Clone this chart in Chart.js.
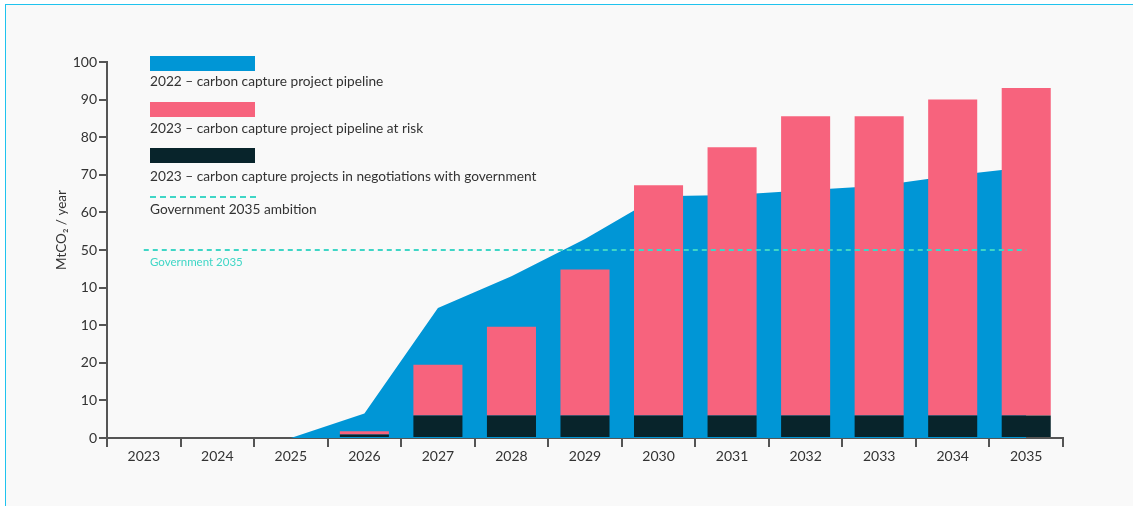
<!DOCTYPE html>
<html lang="en">
<head>
    <meta charset="UTF-8">
    <title>Carbon capture project pipeline</title>
    <script src="https://cdn.jsdelivr.net/npm/chart.js"></script>
    <style>
        body { margin: 0; background: #fff; font-family: Lato, sans-serif; }
        .frame {
            position: absolute; left: 5px; top: 4px; width: 1140px; height: 520px;
            background: #f9f9f9; border-top: 1.5px solid #1fc3ee; border-left: 1.5px solid #1fc3ee;
        }
        .wrap { position: absolute; left: 0; top: 0; width: 1133px; height: 506px; }
        .legend { position: absolute; left: 0; top: 0; color: #333; font-size: 13.7px; }
        .swatch { position: absolute; left: 150px; width: 105px; height: 15px; }
        .dash { position: absolute; left: 150px; width: 106px; height: 2px;
            background: repeating-linear-gradient(90deg, #3fd6c6 0 6px, transparent 6px 10px); }
        .label { position: absolute; left: 150px; white-space: nowrap; line-height: 16px; }
    </style>
</head>
<body>
    <div class="frame"></div>
    <div class="wrap">
        <canvas id="chart" width="1133" height="506"></canvas>
    </div>

    <!-- Legend (swatch above text) -->
    <div class="legend">
        <div class="swatch" style="top:56px; background:#0096d6"></div>
        <div class="label" style="top:73px">2022 – carbon capture project pipeline</div>
        <div class="swatch" style="top:102px; background:#f7637d"></div>
        <div class="label" style="top:120px">2023 – carbon capture project pipeline at risk</div>
        <div class="swatch" style="top:148px; background:#08242b"></div>
        <div class="label" style="top:168px">2023 – carbon capture projects in negotiations with government</div>
        <div class="dash" style="top:196px"></div>
        <div class="label" style="top:201px">Government 2035 ambition</div>
    </div>

    <script>
        // Data
        const years = ['2023', '2024', '2025', '2026', '2027', '2028', '2029', '2030', '2031', '2032', '2033', '2034', '2035'];
        const pipeline2022 = [0, 0, 0, 6.5, 34.6, 43, 52.9, 64.3, 64.6, 65.9, 67.1, 69.8, 72];
        const negotiations2023 = [0, 0, 0, 0.9, 6, 6, 6, 6, 6, 6, 6, 6, 6];
        const atRisk2023 = [0, 0, 0, 0.9, 13.5, 23.6, 38.8, 61.2, 71.3, 79.6, 79.6, 84, 87.1];
        const ambition2035 = [50, 50, 50, 50, 50, 50, 50, 50, 50, 50, 50, 50, 50];
        const yTickLabels = ['0', '10', '20', '10', '10', '50', '60', '70', '80', '90', '100'];

        const axisColor = '#555';
        const teal = '#3fd6c6';

        // Y axis title + ambition label
        const extraText = {
            id: 'extraText',
            afterDatasetsDraw(chart) {
                const ctx = chart.ctx;
                const y = chart.scales.y;
                ctx.save();
                ctx.fillStyle = teal;
                ctx.font = '11.5px Lato';
                ctx.textBaseline = 'middle';
                ctx.fillText('Government 2035', 150, y.getPixelForValue(50) + 12);
                ctx.restore();

                ctx.save();
                ctx.translate(62, 230);
                ctx.rotate(-Math.PI / 2);
                ctx.fillStyle = '#333';
                ctx.font = '13.5px Lato';
                ctx.textAlign = 'center';
                ctx.textBaseline = 'middle';
                ctx.fillText('MtCO₂ / year', 0, 0);
                ctx.restore();
            }
        };

        const ctx = document.getElementById('chart').getContext('2d');
        new Chart(ctx, {
            data: {
                labels: years,
                datasets: [
                    {
                        type: 'line',
                        label: 'Government 2035 ambition',
                        data: ambition2035,
                        borderColor: teal,
                        borderWidth: 2,
                        borderDash: [5, 4],
                        pointRadius: 0,
                        fill: false,
                        stack: 'ambition',
                        order: 0
                    },
                    {
                        type: 'bar',
                        label: '2023 – carbon capture projects in negotiations with government',
                        data: negotiations2023,
                        backgroundColor: '#08242b',
                        stack: 'bars',
                        order: 1
                    },
                    {
                        type: 'bar',
                        label: '2023 – carbon capture project pipeline at risk',
                        data: atRisk2023,
                        backgroundColor: '#f7637d',
                        stack: 'bars',
                        order: 1
                    },
                    {
                        type: 'line',
                        label: '2022 – carbon capture project pipeline',
                        data: pipeline2022,
                        backgroundColor: '#0096d6',
                        borderWidth: 0,
                        pointRadius: 0,
                        tension: 0,
                        fill: 'origin',
                        stack: 'area',
                        order: 2
                    }
                ]
            },
            options: {
                responsive: false,
                animation: false,
                layout: { padding: { top: 62, right: 70, left: 0, bottom: 0 } },
                datasets: {
                    bar: { categoryPercentage: 1, barPercentage: 0.667, borderWidth: 0 }
                },
                plugins: {
                    legend: { display: false },
                    tooltip: { enabled: false }
                },
                scales: {
                    x: {
                        stacked: true,
                        offset: true,
                        afterFit: (scale) => { scale.height = 68; },
                        grid: {
                            offset: true,
                            drawOnChartArea: false,
                            drawTicks: true,
                            tickLength: 9,
                            color: axisColor,
                            lineWidth: 2
                        },
                        border: { display: true, color: axisColor, width: 2 },
                        ticks: { color: '#333', font: { family: 'Lato', size: 14 }, padding: 1, maxRotation: 0 }
                    },
                    y: {
                        stacked: true,
                        min: 0,
                        max: 100,
                        afterFit: (scale) => { scale.width = 107; },
                        grid: {
                            drawOnChartArea: false,
                            drawTicks: true,
                            tickLength: 8,
                            color: axisColor,
                            lineWidth: 2
                        },
                        border: { display: true, color: axisColor, width: 2 },
                        ticks: {
                            stepSize: 10,
                            color: '#333',
                            font: { family: 'Lato', size: 14 },
                            padding: 2,
                            callback: (value, index) => yTickLabels[index]
                        }
                    }
                }
            },
            plugins: [extraText]
        });
    </script>
</body>
</html>
